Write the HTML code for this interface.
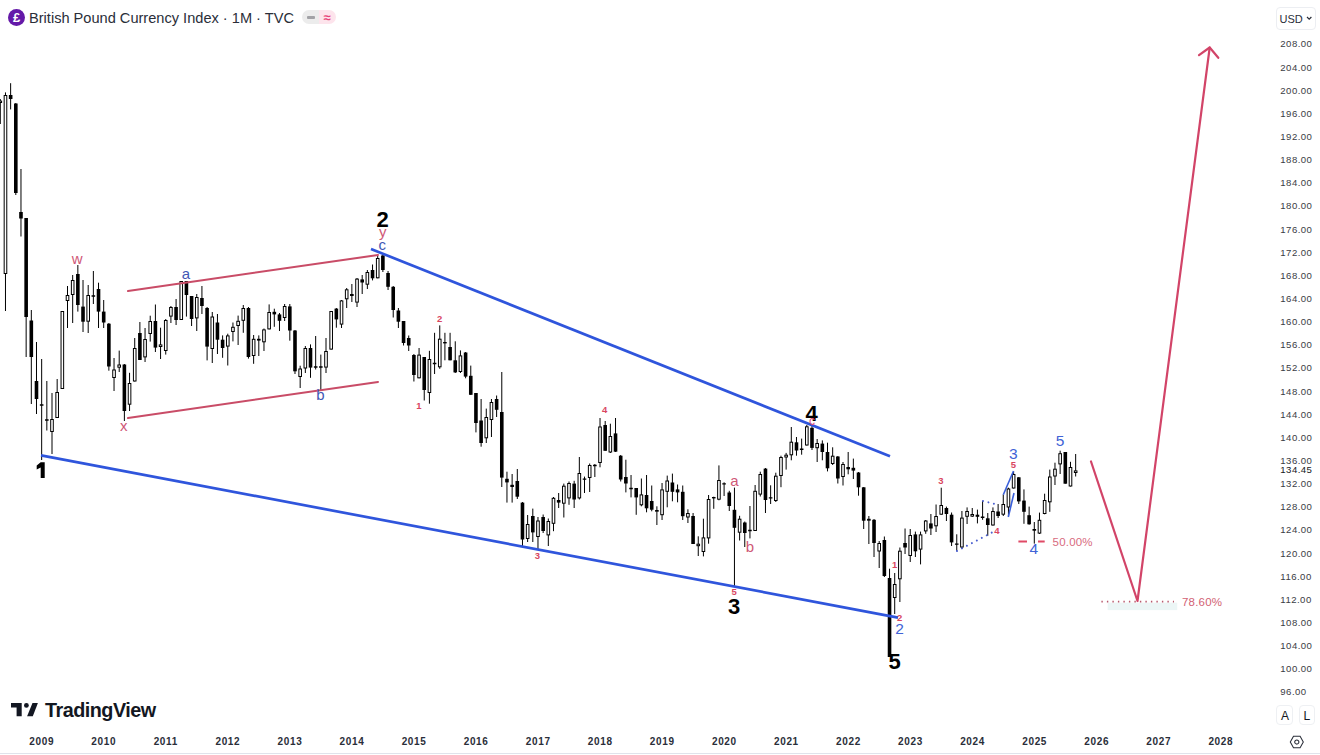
<!DOCTYPE html>
<html><head><meta charset="utf-8"><title>GBP Index</title><style>
html,body{margin:0;padding:0;width:1320px;height:755px;overflow:hidden;background:#fff;font-family:"Liberation Sans",sans-serif;}
svg{position:absolute;left:0;top:0;}
.pl{font-size:9.6px;fill:#3a3c44;letter-spacing:0.46px;}
.cur{fill:#131722;}
.yl{font-size:10px;font-weight:bold;fill:#2a2e39;text-anchor:middle;letter-spacing:0.65px;}
.hdr{position:absolute;left:29px;top:9.8px;font-size:14.6px;color:#2a2e39;white-space:nowrap;letter-spacing:0;}
.icon{position:absolute;left:8px;top:9px;width:17px;height:17px;border-radius:50%;background:#6419a8;color:#fff;font-size:13px;font-weight:bold;text-align:center;line-height:17px;}
.pill{position:absolute;left:302px;top:10px;width:34px;height:14px;border-radius:7px;overflow:hidden;}
.pill .g{position:absolute;left:0;top:0;width:17px;height:14px;background:#ececec;}
.pill .p{position:absolute;left:17px;top:0;width:17px;height:14px;background:#fde4ec;}
.usd{position:absolute;left:1276px;top:6.7px;width:40px;height:23px;border:1px solid #eceef2;border-radius:4px;box-sizing:border-box;font-size:11px;color:#2a2e39;}
.btn{position:absolute;top:705.3px;width:16.6px;height:19.4px;border:1px solid #eef0f3;border-radius:4px;box-sizing:border-box;font-size:12px;color:#131722;text-align:center;line-height:21px;}
.tv{position:absolute;left:45px;top:698.5px;font-size:19.8px;font-weight:bold;color:#131722;letter-spacing:-0.5px;}
</style></head><body>
<svg width="1320" height="755" viewBox="0 0 1320 755">
<!-- candles -->
<path d="M0.3 99V124M5.47 92.4V311M10.64 83.2V109.4M15.81 103V195M20.98 169V236.5M26.15 218V357M31.32 310V404M36.49 342V414M41.66 359V460M46.83 381V430.5M52 393V454M57.17 379V418M62.34 311V389M67.51 286V328M72.68 275V323M77.85 265V311.6M83.02 280V332M88.19 285V333M93.36 271V304M98.53 282.7V328M103.7 300V328M108.87 323V370.7M114.04 358V391M119.21 350.6V372M124.38 364V421M129.55 372.8V411M134.72 338V381.5M139.89 322V360M145.06 328V362M150.23 315.7V341.6M155.4 304.5V352M160.57 327.7V359M165.74 319V354.6M170.91 306V323M176.08 299V325M181.25 281V320M186.42 281V316.6M191.59 296V326M196.76 294V331M201.93 286V314M207.1 307V360.4M212.27 312V363M217.44 314V354M222.61 335.4V357.8M227.78 333.7V365.5M232.95 322.5V341.4M238.12 315.6V345M243.29 305V332.8M248.46 307V358.6M253.63 335V363.8M258.8 335.4V356M263.97 328.5V351M269.14 304.4V329.4M274.31 308.7V326.8M279.48 313V331M284.65 304V321M289.82 304V340.7M294.99 330V374M300.16 365.7V388M305.33 346V373M310.5 344.4V377.8M315.67 336V369.5M320.84 354.6V390M326.01 338V373M331.18 311V349.6M336.35 308V327.7M341.52 300V328M346.69 288V308M351.86 284V302M357.03 278V307M362.2 275V294M367.37 270V289M372.54 264.5V280.4M377.71 255.5V278.3M382.88 253.3V272M388.05 271V290M393.22 286V317.5M398.39 308V328M403.56 321V345.5M408.73 335.5V351M413.9 354V381.5M419.07 348V378.3M424.24 357V400.5M429.41 350.8V403.7M434.58 332.8V374M439.75 325.4V368.8M444.92 332.8V360.3M450.09 332.8V360.3M455.26 341.3V373M460.43 350.4V373M465.6 352V378.3M470.77 365.6V395M475.94 393V432.4M481.11 399V446.7M486.28 408.6V443M491.45 399V437M496.62 395.5V417M501.79 372V487M506.96 471.7V502.6M512.13 474V502.6M517.3 469V499M522.47 502V546.7M527.64 515V542M532.81 508.6V542M537.98 517V550M543.15 514.5V533M548.32 518.5V546M553.49 497V531.2M558.66 493V508M563.83 483.6V517.5M569 481.5V504.8M574.17 480.8V508M579.34 457V499.5M584.51 476.6V493M589.68 463.5V492M594.85 464V477M600.02 418V467.3M605.19 421V450.8M610.36 423.7V453M615.53 418V452M620.7 455V481.5M625.87 459.7V492.4M631.04 475V497.4M636.21 488V514.8M641.38 478.5V506.3M646.55 475V512.3M651.72 485.5V511.3M656.89 506.3V525M662.06 483V520M667.23 475.6V507.3M672.4 473.6V501.3M677.57 484.5V502.3M682.74 485.5V520M687.91 509.3V523M693.08 513V544M698.25 536.3V556M703.42 518.7V556.4M708.59 495V543.7M713.76 496.7V508.8M718.93 465.4V500.3M724.1 482.3V496M729.27 490.8V511M734.44 487.6V587M739.61 515.8V540.5M744.78 521.5V547M749.95 506V538.4M755.12 485V531M760.29 471.7V496.5M765.46 468V513M770.63 485.3V504M775.8 472.7V502M780.97 455.7V487.2M786.14 452.9V469.6M791.31 427V460.3M796.48 437V455.7M801.65 438.6V454.7M806.82 425V445.5M811.99 426V450M817.16 439V462M822.33 440.4V460.3M827.5 442.7V471.4M832.67 447.3V465M837.84 456V483.5M843.01 462V485.5M848.18 452V474.3M853.35 458.6V479M858.52 472V495.7M863.69 487V529M868.86 516V544M874.03 519V557M879.2 541V568M884.37 536.5V577M889.54 568.7V657M894.71 573V614M899.88 547.5V602M905.05 528.5V554M910.22 529V562M915.39 531.6V557M920.56 531.6V564.4M925.73 520V533.8M930.9 514V535M936.07 504.5V532M941.24 487.7V514.7M946.41 506.6V521M951.58 512.5V546M956.75 534.3V551M961.92 511V549M967.09 507.4V524M972.26 508V517M977.43 509.6V523.4M982.6 500.8V519.8M987.77 513V535.8M992.94 507.4V525.6M998.11 504V518M1003.28 494.5V516M1008.45 487.7V516M1013.62 471.3V488.5M1018.79 477V504M1023.96 489.4V523.8M1029.13 506.6V524.7M1034.3 522V543.6M1039.47 512.6V534M1044.64 493.7V514.3M1049.81 469.6V511.8M1054.98 462.7V485M1060.15 450.7V474M1065.32 452V483.7M1070.49 461.8V486.5M1075.66 454V476.5" stroke="#000" stroke-width="1" fill="none"/>
<g fill="#000"><rect x="8.84" y="95" width="3.6" height="4"/><rect x="14.01" y="103.5" width="3.6" height="89.5"/><rect x="19.18" y="212" width="3.6" height="6.5"/><rect x="24.35" y="218" width="3.6" height="99"/><rect x="29.52" y="320.5" width="3.6" height="36.5"/><rect x="34.69" y="381" width="3.6" height="18"/><rect x="76.05" y="274" width="3.6" height="31"/><rect x="81.22" y="306.6" width="3.6" height="15.1"/><rect x="96.73" y="289" width="3.6" height="22.6"/><rect x="101.9" y="311.6" width="3.6" height="10.9"/><rect x="107.07" y="323.7" width="3.6" height="42.8"/><rect x="122.58" y="364.5" width="3.6" height="46.5"/><rect x="138.09" y="333" width="3.6" height="27"/><rect x="153.6" y="321" width="3.6" height="26.6"/><rect x="174.28" y="307" width="3.6" height="13"/><rect x="184.62" y="281" width="3.6" height="14"/><rect x="189.79" y="296" width="3.6" height="23"/><rect x="200.13" y="298" width="3.6" height="8"/><rect x="205.3" y="308" width="3.6" height="38.6"/><rect x="215.64" y="322.5" width="3.6" height="17.2"/><rect x="220.81" y="339.7" width="3.6" height="8.3"/><rect x="246.66" y="308" width="3.6" height="49"/><rect x="257" y="338.8" width="3.6" height="1.8"/><rect x="272.51" y="311.8" width="3.6" height="2.6"/><rect x="277.68" y="314.4" width="3.6" height="6.4"/><rect x="288.02" y="306.4" width="3.6" height="24.1"/><rect x="293.19" y="330.5" width="3.6" height="40.8"/><rect x="308.7" y="348" width="3.6" height="19.6"/><rect x="334.55" y="308.6" width="3.6" height="10.8"/><rect x="350.06" y="294" width="3.6" height="2"/><rect x="360.4" y="279.4" width="3.6" height="3.1"/><rect x="370.74" y="270" width="3.6" height="8.3"/><rect x="381.08" y="255.5" width="3.6" height="14.5"/><rect x="386.25" y="273" width="3.6" height="13.8"/><rect x="391.42" y="286.8" width="3.6" height="23.2"/><rect x="396.59" y="310.5" width="3.6" height="11.2"/><rect x="401.76" y="321" width="3.6" height="22"/><rect x="406.93" y="338" width="3.6" height="7.5"/><rect x="412.1" y="355" width="3.6" height="20"/><rect x="422.44" y="357" width="3.6" height="33"/><rect x="443.12" y="342" width="3.6" height="1.4"/><rect x="448.29" y="347" width="3.6" height="13.3"/><rect x="453.46" y="360.3" width="3.6" height="12.1"/><rect x="463.8" y="352.5" width="3.6" height="24.1"/><rect x="468.97" y="375.8" width="3.6" height="19"/><rect x="474.14" y="393" width="3.6" height="30"/><rect x="479.31" y="420.5" width="3.6" height="22.5"/><rect x="494.82" y="399" width="3.6" height="10.8"/><rect x="499.99" y="412" width="3.6" height="65.6"/><rect x="505.16" y="478.8" width="3.6" height="3.6"/><rect x="510.33" y="484.8" width="3.6" height="2.2"/><rect x="515.5" y="481" width="3.6" height="15.7"/><rect x="520.67" y="502.6" width="3.6" height="36.9"/><rect x="531.01" y="516" width="3.6" height="16.4"/><rect x="541.35" y="517" width="3.6" height="14"/><rect x="556.86" y="500" width="3.6" height="2.6"/><rect x="572.37" y="483.6" width="3.6" height="15.9"/><rect x="603.39" y="425" width="3.6" height="25.8"/><rect x="613.73" y="433.4" width="3.6" height="18.3"/><rect x="618.9" y="455.7" width="3.6" height="23.8"/><rect x="624.07" y="477" width="3.6" height="6.5"/><rect x="634.41" y="488" width="3.6" height="9.4"/><rect x="644.75" y="495" width="3.6" height="13.3"/><rect x="649.92" y="501" width="3.6" height="8.7"/><rect x="670.6" y="482.5" width="3.6" height="9.3"/><rect x="675.77" y="489.4" width="3.6" height="3"/><rect x="680.94" y="491.8" width="3.6" height="24.4"/><rect x="691.28" y="516" width="3.6" height="28"/><rect x="711.96" y="497" width="3.6" height="1.4"/><rect x="727.47" y="492.5" width="3.6" height="13.5"/><rect x="732.64" y="509.8" width="3.6" height="18"/><rect x="742.98" y="522.5" width="3.6" height="10.5"/><rect x="763.66" y="468.6" width="3.6" height="31.4"/><rect x="794.68" y="442.3" width="3.6" height="8.2"/><rect x="810.19" y="427.8" width="3.6" height="20.1"/><rect x="820.53" y="443.6" width="3.6" height="8.4"/><rect x="825.7" y="452" width="3.6" height="16.3"/><rect x="836.04" y="456.5" width="3.6" height="22"/><rect x="846.38" y="467" width="3.6" height="2.3"/><rect x="851.55" y="467.8" width="3.6" height="2.8"/><rect x="856.72" y="472.5" width="3.6" height="14.8"/><rect x="861.89" y="487.3" width="3.6" height="33.4"/><rect x="872.23" y="519.8" width="3.6" height="23.2"/><rect x="882.57" y="540" width="3.6" height="36"/><rect x="887.74" y="578" width="3.6" height="79"/><rect x="903.25" y="543" width="3.6" height="4.5"/><rect x="913.59" y="534.4" width="3.6" height="16.9"/><rect x="929.1" y="523.4" width="3.6" height="5.1"/><rect x="944.61" y="508" width="3.6" height="6"/><rect x="949.78" y="514.7" width="3.6" height="27.7"/><rect x="975.63" y="514.7" width="3.6" height="2.1"/><rect x="985.97" y="518.3" width="3.6" height="6.7"/><rect x="996.31" y="511.5" width="3.6" height="4.5"/><rect x="1016.99" y="477.3" width="3.6" height="24.1"/><rect x="1022.16" y="500.6" width="3.6" height="11.2"/><rect x="1027.33" y="515.2" width="3.6" height="9.1"/><rect x="1032.5" y="529" width="3.6" height="1.7"/><rect x="1063.52" y="452" width="3.6" height="31.7"/></g>
<g fill="#fff" stroke="#000" stroke-width="1"><rect x="-1" y="101.1" width="2.6" height="1.4"/><rect x="4.17" y="95.5" width="2.6" height="178"/><rect x="50.7" y="419.5" width="2.6" height="12"/><rect x="55.87" y="392.5" width="2.6" height="25"/><rect x="61.04" y="311.5" width="2.6" height="77"/><rect x="66.21" y="295.5" width="2.6" height="5"/><rect x="71.38" y="280.5" width="2.6" height="14"/><rect x="86.89" y="295.5" width="2.6" height="25.7"/><rect x="112.74" y="370" width="2.6" height="7.5"/><rect x="117.91" y="365" width="2.6" height="2.2"/><rect x="128.25" y="383.5" width="2.6" height="20.7"/><rect x="133.42" y="348.5" width="2.6" height="32.5"/><rect x="143.76" y="339.5" width="2.6" height="17.4"/><rect x="148.93" y="321.5" width="2.6" height="12"/><rect x="159.27" y="344.9" width="2.6" height="1.6"/><rect x="164.44" y="320.5" width="2.6" height="30"/><rect x="169.61" y="307.5" width="2.6" height="8.6"/><rect x="179.95" y="281.5" width="2.6" height="38"/><rect x="195.46" y="297.5" width="2.6" height="20.4"/><rect x="210.97" y="317" width="2.6" height="31.5"/><rect x="226.48" y="335.9" width="2.6" height="10.2"/><rect x="231.65" y="327.3" width="2.6" height="4.2"/><rect x="236.82" y="321.3" width="2.6" height="4.2"/><rect x="241.99" y="308.5" width="2.6" height="11.8"/><rect x="252.33" y="339.3" width="2.6" height="16.2"/><rect x="262.67" y="329.9" width="2.6" height="11.9"/><rect x="267.84" y="312.5" width="2.6" height="16.4"/><rect x="283.35" y="306.5" width="2.6" height="11"/><rect x="298.86" y="369" width="2.6" height="7.5"/><rect x="304.03" y="348.5" width="2.6" height="19.5"/><rect x="324.71" y="351.5" width="2.6" height="15.6"/><rect x="329.88" y="311.5" width="2.6" height="37.6"/><rect x="340.22" y="300.9" width="2.6" height="23.2"/><rect x="345.39" y="289.8" width="2.6" height="9"/><rect x="355.73" y="279.1" width="2.6" height="23"/><rect x="366.07" y="272.5" width="2.6" height="11.7"/><rect x="376.41" y="258.5" width="2.6" height="19.3"/><rect x="417.77" y="355.1" width="2.6" height="22.7"/><rect x="428.11" y="359.5" width="2.6" height="33"/><rect x="438.45" y="339.2" width="2.6" height="27.6"/><rect x="459.13" y="355.9" width="2.6" height="15.6"/><rect x="484.98" y="417.5" width="2.6" height="20.3"/><rect x="490.15" y="402.5" width="2.6" height="17"/><rect x="526.34" y="524.5" width="2.6" height="14"/><rect x="536.68" y="521" width="2.6" height="15.5"/><rect x="547.02" y="521.5" width="2.6" height="13.4"/><rect x="552.19" y="498.3" width="2.6" height="25"/><rect x="562.53" y="486.2" width="2.6" height="17"/><rect x="567.7" y="483.5" width="2.6" height="14.4"/><rect x="578.04" y="473.5" width="2.6" height="24.4"/><rect x="588.38" y="465.5" width="2.6" height="12"/><rect x="598.72" y="427" width="2.6" height="35.5"/><rect x="609.06" y="436.5" width="2.6" height="15.5"/><rect x="640.08" y="494.9" width="2.6" height="9.9"/><rect x="655.59" y="510.5" width="2.6" height="0.7"/><rect x="660.76" y="489.9" width="2.6" height="24.8"/><rect x="665.93" y="481" width="2.6" height="10.3"/><rect x="686.61" y="513.5" width="2.6" height="3.5"/><rect x="696.95" y="544.2" width="2.6" height="1.5"/><rect x="702.12" y="537.9" width="2.6" height="13.6"/><rect x="707.29" y="499.5" width="2.6" height="38.4"/><rect x="717.63" y="480.5" width="2.6" height="18.7"/><rect x="738.31" y="519.2" width="2.6" height="13"/><rect x="753.82" y="491.3" width="2.6" height="39.2"/><rect x="758.99" y="474.5" width="2.6" height="19.6"/><rect x="774.5" y="476.2" width="2.6" height="24.3"/><rect x="779.67" y="457.5" width="2.6" height="18"/><rect x="784.84" y="455.2" width="2.6" height="1.8"/><rect x="790.01" y="442.2" width="2.6" height="12.6"/><rect x="805.52" y="426.8" width="2.6" height="18.2"/><rect x="815.86" y="443.5" width="2.6" height="4.2"/><rect x="831.37" y="456.2" width="2.6" height="7.3"/><rect x="841.71" y="464.5" width="2.6" height="12"/><rect x="867.56" y="519.3" width="2.6" height="0.9"/><rect x="877.9" y="543.5" width="2.6" height="7.5"/><rect x="893.41" y="584.5" width="2.6" height="13"/><rect x="898.58" y="551.2" width="2.6" height="27.6"/><rect x="908.92" y="535.5" width="2.6" height="20"/><rect x="919.26" y="534.9" width="2.6" height="14.2"/><rect x="924.43" y="521" width="2.6" height="9.9"/><rect x="934.77" y="516.5" width="2.6" height="9.3"/><rect x="939.94" y="505.5" width="2.6" height="8.7"/><rect x="960.62" y="518.1" width="2.6" height="28.9"/><rect x="965.79" y="511.5" width="2.6" height="4.8"/><rect x="970.96" y="514.5" width="2.6" height="1.6"/><rect x="991.64" y="511.5" width="2.6" height="13.5"/><rect x="1001.98" y="504.5" width="2.6" height="9.7"/><rect x="1007.15" y="489" width="2.6" height="18"/><rect x="1012.32" y="474.5" width="2.6" height="13.5"/><rect x="1038.17" y="520.3" width="2.6" height="12.8"/><rect x="1043.34" y="500.5" width="2.6" height="13"/><rect x="1048.51" y="477" width="2.6" height="24.8"/><rect x="1053.68" y="469.2" width="2.6" height="6.8"/><rect x="1058.85" y="453.7" width="2.6" height="10.2"/><rect x="1069.19" y="467.5" width="2.6" height="18.5"/><rect x="1074.36" y="470.9" width="2.6" height="1.6"/></g>
<path d="M39.86 405h3.6M45.03 420h3.6M91.56 296h3.6M313.87 367h3.6M319.04 367h3.6M432.78 363.45h3.6M582.71 479.15h3.6M593.05 465.5h3.6M629.24 488.5h3.6M722.3 483.9h3.6M748.15 530.5h3.6M768.83 497.85h3.6M799.85 449.25h3.6M954.95 544.15h3.6M980.8 517.3h3.6" stroke="#000" stroke-width="1.4" fill="none"/>
<!-- red channel lines -->
<g stroke="#c94c67" stroke-width="2" fill="none" stroke-linecap="round">
<path d="M128 291L378 255"/>
<path d="M128 418L378 382"/>
</g>
<!-- blue wedge lines -->
<g stroke="#2f55dc" stroke-width="2.7" fill="none">
<path d="M41 455.4L898 617.6"/>
<path d="M371 249L890 456.3"/>
</g>
<!-- small blue triangle -->
<g stroke="#3a5fd9" stroke-width="1.6" fill="none">
<path d="M1003.3 494.8L1013.5 471"/>
<path d="M1008.3 517L1014 493"/>
</g>
<!-- dotted blue lines -->
<g stroke="#4a5fd0" stroke-width="2" fill="none" stroke-dasharray="0.01 5.6" stroke-linecap="round">
<path d="M957 551L992 532.5"/>
<path d="M983 501L999 505"/>
</g>
<!-- red projection -->
<g stroke="#d24468" stroke-width="2.2" fill="none" stroke-linecap="round" stroke-linejoin="round">
<path d="M1091 461.5L1137.5 601L1209.7 47.5"/>
<path d="M1199 55.2L1209.7 47.5L1218.3 57.8"/>
</g>
<rect x="1107.7" y="602.7" width="69.5" height="7.4" fill="#ecf6f6"/>
<path d="M1101.4 601.6H1174" stroke="#b85a6e" stroke-width="1.7" stroke-dasharray="1.4 4.1"/>
<text x="1182" y="606" font-size="11.5" letter-spacing="0.2" fill="#d25f74">78.60%</text>
<path d="M1018.4 541.5H1027M1038 541.5H1044.7" stroke="#e04a66" stroke-width="2"/>
<text x="1052.6" y="545.7" font-size="11.5" letter-spacing="0.2" fill="#d86b80">50.00%</text>
<!-- wave labels big black -->
<g font-size="22" font-weight="bold" fill="#000" text-anchor="middle">
<text x="382.6" y="227">2</text>
<text x="734.1" y="613.8">3</text>
<text x="811.5" y="421">4</text>
<text x="894.6" y="669">5</text>
</g>
<path d="M40.7 462.2H44.7V478.1H40.7V467.4L36.7 469.6V465.6Z" fill="#000"/>
<!-- blue labels -->
<g font-size="15.5" fill="#4063d6" text-anchor="middle">
<text x="899.5" y="634.2">2</text>
<text x="1013.4" y="458.9">3</text>
<text x="1033.9" y="554.3">4</text>
<text x="1060.1" y="446.4">5</text>
</g>
<g font-size="15" fill="#4257b4" text-anchor="middle">
<text x="186" y="278.7">a</text>
<text x="320.5" y="400.2">b</text>
<text x="382.2" y="250">c</text>
</g>
<!-- red letter labels -->
<g font-size="15" fill="#cf5877" text-anchor="middle">
<text x="77.2" y="263.9">w</text>
<text x="123.7" y="430.9">x</text>
<text x="382.7" y="236.5">y</text>
<text x="734.3" y="485.5">a</text>
<text x="750" y="552.1">b</text>
</g>
<g font-size="9.5" font-weight="bold" fill="#d9465f" text-anchor="middle">
<text x="419" y="409.2">1</text>
<text x="439.6" y="322">2</text>
<text x="537.4" y="559.4">3</text>
<text x="604.6" y="412.9">4</text>
<text x="734.2" y="594.5">5</text>
<text x="894.6" y="568">1</text>
<text x="899.7" y="621">2</text>
<text x="940.8" y="484.4">3</text>
<text x="997" y="534.1">4</text>
<text x="1013.4" y="468.2">5</text>
</g>
<text x="811.9" y="424.6" font-size="12" fill="#e0507a" text-anchor="middle">c</text>
<!-- axes -->
<text x="1280.3" y="47.45" class="pl">208.00</text>
<text x="1280.3" y="70.59" class="pl">204.00</text>
<text x="1280.3" y="93.74" class="pl">200.00</text>
<text x="1280.3" y="116.88" class="pl">196.00</text>
<text x="1280.3" y="140.03" class="pl">192.00</text>
<text x="1280.3" y="163.17" class="pl">188.00</text>
<text x="1280.3" y="186.31" class="pl">184.00</text>
<text x="1280.3" y="209.46" class="pl">180.00</text>
<text x="1280.3" y="232.6" class="pl">176.00</text>
<text x="1280.3" y="255.75" class="pl">172.00</text>
<text x="1280.3" y="278.89" class="pl">168.00</text>
<text x="1280.3" y="302.03" class="pl">164.00</text>
<text x="1280.3" y="325.18" class="pl">160.00</text>
<text x="1280.3" y="348.32" class="pl">156.00</text>
<text x="1280.3" y="371.47" class="pl">152.00</text>
<text x="1280.3" y="394.61" class="pl">148.00</text>
<text x="1280.3" y="417.75" class="pl">144.00</text>
<text x="1280.3" y="440.9" class="pl">140.00</text>
<text x="1280.3" y="464.04" class="pl">136.00</text>
<text x="1280.3" y="487.19" class="pl">132.00</text>
<text x="1280.3" y="510.33" class="pl">128.00</text>
<text x="1280.3" y="533.47" class="pl">124.00</text>
<text x="1280.3" y="556.62" class="pl">120.00</text>
<text x="1280.3" y="579.76" class="pl">116.00</text>
<text x="1280.3" y="602.91" class="pl">112.00</text>
<text x="1280.3" y="626.05" class="pl">108.00</text>
<text x="1280.3" y="649.19" class="pl">104.00</text>
<text x="1280.3" y="672.34" class="pl">100.00</text>
<text x="1280.3" y="695.48" class="pl">96.00</text>
<text x="1280.3" y="473.25" class="pl cur">134.45</text>
<text x="41.7" y="744.7" class="yl">2009</text>
<text x="103.76" y="744.7" class="yl">2010</text>
<text x="165.82" y="744.7" class="yl">2011</text>
<text x="227.88" y="744.7" class="yl">2012</text>
<text x="289.94" y="744.7" class="yl">2013</text>
<text x="352" y="744.7" class="yl">2014</text>
<text x="414.06" y="744.7" class="yl">2015</text>
<text x="476.12" y="744.7" class="yl">2016</text>
<text x="538.18" y="744.7" class="yl">2017</text>
<text x="600.24" y="744.7" class="yl">2018</text>
<text x="662.3" y="744.7" class="yl">2019</text>
<text x="724.36" y="744.7" class="yl">2020</text>
<text x="786.42" y="744.7" class="yl">2021</text>
<text x="848.48" y="744.7" class="yl">2022</text>
<text x="910.54" y="744.7" class="yl">2023</text>
<text x="972.6" y="744.7" class="yl">2024</text>
<text x="1034.66" y="744.7" class="yl">2025</text>
<text x="1096.72" y="744.7" class="yl">2026</text>
<text x="1158.78" y="744.7" class="yl">2027</text>
<text x="1220.84" y="744.7" class="yl">2028</text>
<path d="M0 753.5H1320" stroke="#e0e3eb" stroke-width="1"/>
<!-- hexagon settings -->
<g transform="translate(1296.8 742)" fill="none" stroke="#2a2e39" stroke-width="1.05">
<path d="M-6.5 0L-3.3 -5.7H3.3L6.5 0L3.3 5.7H-3.3Z"/>
<circle r="2.1"/>
</g>
<!-- TV logo mark -->
<g fill="#131722">
<path d="M11 703H21.7V716.3H16.6V707.6H11Z"/>
<circle cx="26.4" cy="705.4" r="2.4"/>
<path d="M32.5 703H37.9L32.8 716.2H27.1Z"/>
</g>
</svg>
<div class="icon">&#163;</div>
<div class="hdr">British Pound Currency Index &middot; 1M &middot; TVC</div>
<div class="pill"><div class="g"></div><div class="p"></div>
<div style="position:absolute;left:4.5px;top:5.6px;width:8px;height:3px;background:#a2a2a6;border-radius:1px"></div>
<div style="position:absolute;left:21.5px;top:-0.5px;font-size:13px;color:#e8437a;font-weight:bold">&#8776;</div>
</div>
<div class="usd"><span style="position:absolute;left:2.6px;top:5.4px;letter-spacing:-0.1px">USD</span><svg width="7" height="5" style="left:28.8px;top:8.3px"><path d="M1 1L3.2 3.2L5.4 1" stroke="#2a2e39" stroke-width="1.2" fill="none"/></svg></div>
<div class="btn" style="left:1276px;text-indent:1.5px">A</div>
<div class="btn" style="left:1298.5px">L</div>
<div class="tv">TradingView</div>
</body></html>
